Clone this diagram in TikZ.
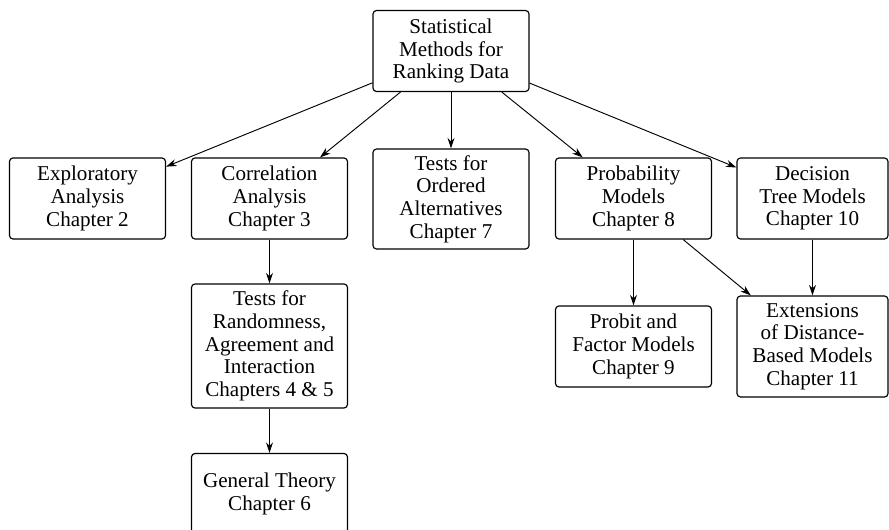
\documentclass[tikz,border=0pt]{standalone}
\usepackage{fontspec}
\setmainfont{Liberation Serif}
\usetikzlibrary{arrows.meta}

\begin{document}
\begin{tikzpicture}[x=0.03cm, y=-0.03cm,
    box/.style={draw, rounded corners=3pt, line width=1pt, align=center, inner sep=0pt,
      minimum width=4.68cm, minimum height=2.43cm, font=\fontsize{18}{19.3}\selectfont},
    arr/.style={-{Stealth[length=9pt,width=6pt]}, line width=0.8pt}]
  \useasboundingbox (0,0) rectangle (889,530);
  % root
  \node[box] (root) at (451,51) {Statistical\\Methods for\\Ranking Data};
  % first row
  \node[box] (expl) at (87.5,198.5) {Exploratory\\Analysis\\Chapter 2};
  \node[box] (corr) at (269.5,198.5) {Correlation\\Analysis\\Chapter 3};
  \node[box, minimum height=3cm] (ord) at (451,199) {Tests for\\Ordered\\Alternatives\\Chapter 7};
  \node[box] (prob) at (633.5,198.5) {Probability\\Models\\Chapter 8};
  \node[box, minimum width=4.53cm] (dec) at (812.5,198.5) {Decision\\Tree Models\\Chapter 10};
  % lower rows
  \node[box, minimum height=3.72cm] (rand) at (269.5,346) {Tests for\\Randomness,\\Agreement and\\Interaction\\Chapters 4 \& 5};
  \node[box] (gen) at (269.5,494) {General Theory\\Chapter 6};
  \node[box] (probit) at (633.5,346.5) {Probit and\\Factor Models\\Chapter 9};
  \node[box, minimum width=4.53cm, minimum height=3.03cm] (ext) at (812.5,346.5) {Extensions\\of Distance-\\Based Models\\Chapter 11};
  % arrows
  \foreach \t in {expl,corr,ord,prob,dec}
    \draw[arr] (root) -- (\t);
  \draw[arr] (corr) -- (rand);
  \draw[arr] (rand) -- (gen);
  \draw[arr] (prob) -- (probit);
  \draw[arr] (prob) -- (ext);
  \draw[arr] (dec) -- (ext);
\end{tikzpicture}
\end{document}
